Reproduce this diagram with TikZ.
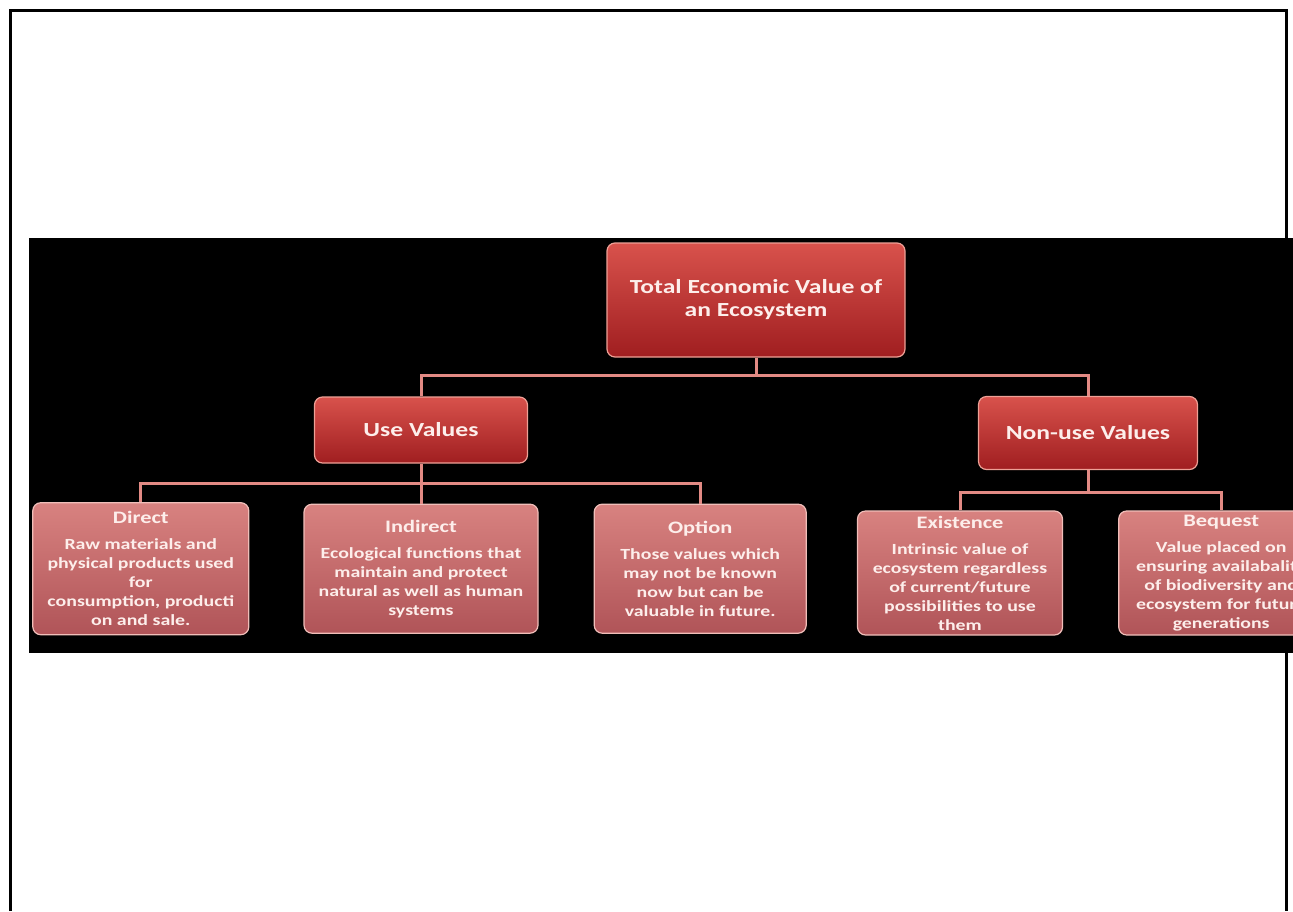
\documentclass[tikz,border=0pt]{standalone}
\usepackage{fontspec}
\setmainfont{Carlito}[FakeStretch=1.28]
\usetikzlibrary{positioning}
\definecolor{rtop}{RGB}{216,82,76}
\definecolor{rbot}{RGB}{160,30,32}
\definecolor{redge}{RGB}{238,160,150}
\definecolor{ptop}{RGB}{216,130,128}
\definecolor{pbot}{RGB}{176,84,88}
\definecolor{pedge}{RGB}{240,190,185}
\definecolor{lnpink}{RGB}{226,138,132}
\definecolor{txtwhite}{RGB}{253,238,235}
\tikzset{
  every node/.style = {text=txtwhite},
  topbox/.style     = {rectangle, rounded corners=8pt, draw=redge, line width=1.2pt,
                       top color=rtop, bottom color=rbot, align=center, inner sep=2pt,
                       font=\bfseries\fontsize{20}{23}\selectfont},
  valbox/.style     = {rectangle, rounded corners=8pt, draw=pedge, line width=1.2pt,
                       top color=ptop, bottom color=pbot, align=center, inner sep=2pt,
                       minimum height=129pt, font=\bfseries\fontsize{15.5}{19}\selectfont},
  conn/.style       = {draw=lnpink, line width=3pt}
}
\newcommand{\boxhead}[1]{{\fontsize{17.5}{19}\selectfont #1}\\[7pt]}

\begin{document}
\begin{tikzpicture}[x=1pt, y=1pt, node distance=40pt and 54pt]
  \clip (0,0) rectangle (1293,-911);
  % page frame and black band
  \draw[line width=3pt] (10,-911) -- (10,-10) -- (1286.5,-10) -- (1286.5,-911);
  \fill[black] (29,-238) rectangle (1293,-653);

  \node[topbox, minimum width=298pt, minimum height=114pt] (total) at (756,-300)
        {Total Economic Value of\\an Ecosystem};
  \node[topbox, minimum width=213pt, minimum height=66pt] (use) at (421,-430) {Use Values};
  \node[topbox, minimum width=219pt, minimum height=73pt] (nonuse) at (1088,-433) {Non-use Values};

  \node[valbox, minimum width=234pt] (indirect) [below=of use]
        {\boxhead{Indirect}Ecological functions that\\maintain and protect\\natural as well as human\\systems};
  \node[valbox, minimum width=216pt, minimum height=132pt] (direct) [left=of indirect]
        {\boxhead{Direct}Raw materials and\\physical products used\\for\\consumption, producti\\on and sale.};
  \node[valbox, minimum width=212pt] (option) [right=55pt of indirect]
        {\boxhead{Option}Those values which\\may not be known\\now but can be\\valuable in future.};

  \node[valbox, minimum width=205pt, minimum height=124pt] (existence) at (960,-573)
        {\boxhead{Existence}Intrinsic value of\\ecosystem regardless\\of current/future\\possibilities to use\\them};
  \node[valbox, minimum width=205pt, minimum height=124pt] (bequest) [right=55pt of existence]
        {\boxhead{Bequest}Value placed on\\ensuring availabality\\of biodiversity and\\ecosystem for future\\generations};

  \draw[conn] (total.south) -- ++(0,-19);
  \draw[conn] (use.north) -- ++(0,21) -| (nonuse.north);
  \draw[conn] (use.south) -- ++(0,-21);
  \draw[conn] (direct.north) -- ++(0,19) -| (option.north);
  \draw[conn] (indirect.north) -- ++(0,19);
  \draw[conn] (nonuse.south) -- ++(0,-23);
  \draw[conn] (existence.north) -- ++(0,18) -| (bequest.north);
\end{tikzpicture}
\end{document}
